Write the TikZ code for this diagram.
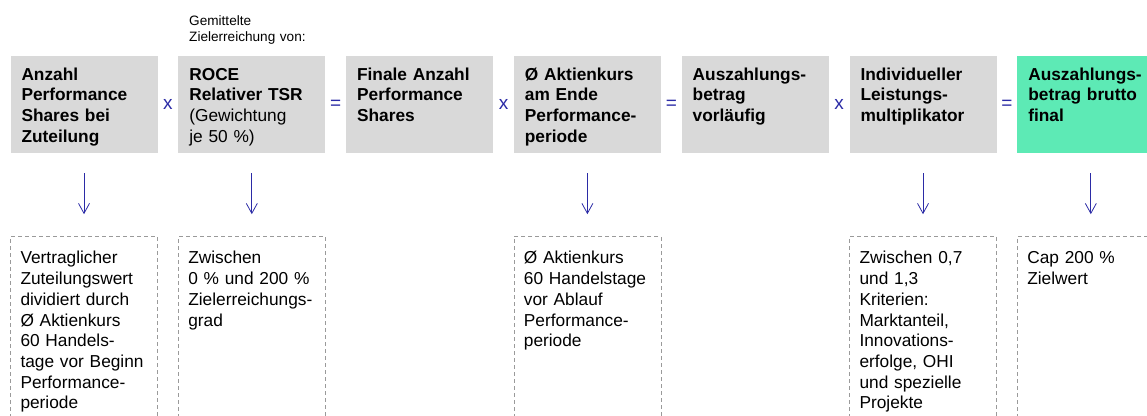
\documentclass[tikz,border=0pt]{standalone}
\usepackage{fontspec}
\setmainfont{Liberation Sans}
\usepackage{xcolor}
\usetikzlibrary{positioning,arrows.meta}
\definecolor{boxgray}{HTML}{D9D9D9}
\definecolor{finalgreen}{HTML}{5DEAB5}
\definecolor{opblue}{HTML}{2B2BA6}
\definecolor{dashgray}{HTML}{9A9A9A}

\begin{document}
\begin{tikzpicture}[
    x=1pt, y=-1pt,
    node distance   = 83pt and 0pt,
    box/.style      = {fill=boxgray, text width=125pt, inner xsep=11pt, inner ysep=11pt,
                       text height=13pt, text depth=62pt, align=left,
                       font=\fontsize{17.3}{20.8}\selectfont\bfseries},
    result/.style   = {box, fill=finalgreen},
    op/.style       = {minimum width=20pt, inner sep=0pt, text=opblue,
                       font=\fontsize{19}{20}\selectfont},
    info/.style     = {draw=dashgray, dash pattern=on 4pt off 3pt, line width=0.8pt,
                       text width=127pt, inner xsep=10pt, inner ysep=10pt,
                       text height=17.3pt, text depth=170pt, align=left,
                       font=\fontsize{17.3}{20.7}\selectfont},
    note/.style     = {inner sep=0pt, text width=140pt, align=left,
                       font=\fontsize{13.6}{16.4}\selectfont},
    arr/.style      = {-{Straight Barb[length=10pt,width=11pt]}, draw=opblue, line width=0.8pt,
                       shorten <=20pt, shorten >=22pt}
]
\useasboundingbox (0,0) rectangle (1147,415);

% upper row
\node[box] (shares) at (84,104.5) {Anzahl\\Performance\\Shares bei\\Zuteilung};
\node[op, right=of shares]  (times1) {x};
\node[box, right=of times1] (roce)   {ROCE\\Relativer TSR\\{\mdseries(Gewichtung\\je 50~\%)}};
\node[op, right=of roce]    (eq1)    {=};
\node[box, right=of eq1]    (final)  {Finale Anzahl\\Performance\\Shares};
\node[op, right=of final]   (times2) {x};
\node[box, right=of times2] (price)  {Ø Aktienkurs\\am Ende\\Performance-\\periode};
\node[op, right=of price]   (eq2)    {=};
\node[box, right=of eq2]    (prelim) {Auszahlungs-\\betrag\\vorläufig};
\node[op, right=of prelim]  (times3) {x};
\node[box, right=of times3] (multi)  {Individueller\\Leistungs-\\multiplikator};
\node[op, right=of multi]   (eq3)    {=};
\node[result, right=of eq3] (gross)  {Auszahlungs-\\betrag brutto\\final};

\node[note, anchor=base west] (hint) at (189,25.3) {Gemittelte\\Zielerreichung von:};

% lower row
\node[info, below=of shares] (sharesinfo) {Vertraglicher\\Zuteilungswert\\dividiert durch\\Ø Aktienkurs\\60 Handels-\\tage vor Beginn\\Performance-\\periode};
\node[info, below=of roce]   (roceinfo)   {Zwischen\\0~\% und 200~\%\\Zielerreichungs-\\grad};
\node[info, below=of price]  (priceinfo)  {Ø Aktienkurs\\60 Handelstage\\vor Ablauf\\Performance-\\periode};
\node[info, below=of multi]  (multiinfo)  {Zwischen 0,7\\und 1,3\\Kriterien:\\Marktanteil,\\Innovations-\\erfolge, OHI\\und spezielle\\Projekte};
\node[info, below=of gross]  (grossinfo)  {Cap 200~\%\\Zielwert};

\draw[arr] (shares) -- (sharesinfo);
\draw[arr] (roce)   -- (roceinfo);
\draw[arr] (price)  -- (priceinfo);
\draw[arr] (multi)  -- (multiinfo);
\draw[arr] (gross)  -- (grossinfo);

\end{tikzpicture}
\end{document}
